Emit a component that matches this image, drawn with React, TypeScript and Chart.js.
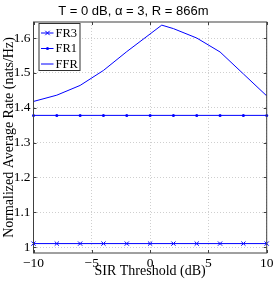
import React, { useEffect, useRef } from 'react';
import { Chart, registerables } from 'chart.js';

Chart.register(...registerables);

// ---- data ----
const sirThresholdDb = [-10, -8, -6, -4, -2, 0, 2, 4, 6, 8, 10];
const fr3Rate = [1.01, 1.01, 1.01, 1.01, 1.01, 1.01, 1.01, 1.01, 1.01, 1.01, 1.01];
const fr1Rate = [1.378, 1.378, 1.378, 1.378, 1.378, 1.378, 1.378, 1.378, 1.378, 1.378, 1.378];
const ffrSirDb = [-10, -8, -6, -4, -2, 1, 2, 4, 6, 8, 10];
const ffrRate = [1.418, 1.436, 1.464, 1.507, 1.561, 1.637, 1.627, 1.6, 1.56, 1.497, 1.434];
const xTicks = [-10, -5, 0, 5, 10];
const yTicks = [1.0, 1.1, 1.2, 1.3, 1.4, 1.5, 1.6];
const seriesNames = ['FR3', 'FR1', 'FFR'];
const titleText = 'T = 0 dB, \u03b1 = 3, R = 866m';
const xTitle = 'SIR Threshold (dB)';
const yTitle = 'Normalized Average Rate (nats/Hz)';

const BLUE = '#0000ff';
const SERIF = '"Liberation Serif", "Times New Roman", serif';

const toPts = (xs: number[], ys: number[]) => xs.map((x, i) => ({ x, y: ys[i] }));

const boxPlugin = {
  id: 'matlabBox',
  afterDraw(chart: any) {
    const { ctx, chartArea: a, scales } = chart;
    ctx.save();
    // inward ticks
    ctx.strokeStyle = '#404040';
    ctx.lineWidth = 1;
    const tl = 3;
    ctx.beginPath();
    xTicks.forEach((v) => {
      const px = Math.round(scales.x.getPixelForValue(v)) + 0.5;
      ctx.moveTo(px, a.bottom);
      ctx.lineTo(px, a.bottom - tl);
      ctx.moveTo(px, a.top);
      ctx.lineTo(px, a.top + tl);
    });
    yTicks.forEach((v) => {
      const py = Math.round(scales.y.getPixelForValue(v)) + 0.5;
      ctx.moveTo(a.left, py);
      ctx.lineTo(a.left + tl, py);
      ctx.moveTo(a.right, py);
      ctx.lineTo(a.right - tl, py);
    });
    ctx.stroke();
    // box
    ctx.strokeStyle = '#404040';
    ctx.strokeRect(a.left, a.top, a.right - a.left, a.bottom - a.top);

    // legend
    const lx = a.left + 5.5;
    const ly = a.top + 1.5;
    const lw = 41;
    const lh = 47;
    ctx.fillStyle = '#ffffff';
    ctx.fillRect(lx, ly, lw, lh);
    ctx.strokeStyle = '#303030';
    ctx.strokeRect(lx, ly, lw, lh);
    const rows = [ly + 9.5, ly + 25, ly + 40.5];
    rows.forEach((ry, i) => {
      ctx.strokeStyle = BLUE;
      ctx.fillStyle = BLUE;
      ctx.lineWidth = 1;
      ctx.beginPath();
      ctx.moveTo(lx + 2, ry);
      ctx.lineTo(lx + 14.5, ry);
      ctx.stroke();
      const mx = lx + 8.5;
      if (i === 0) {
        ctx.beginPath();
        ctx.moveTo(mx - 2.2, ry - 2.2);
        ctx.lineTo(mx + 2.2, ry + 2.2);
        ctx.moveTo(mx - 2.2, ry + 2.2);
        ctx.lineTo(mx + 2.2, ry - 2.2);
        ctx.stroke();
      } else if (i === 1) {
        ctx.beginPath();
        ctx.arc(mx, ry, 1.5, 0, Math.PI * 2);
        ctx.fill();
      }
      ctx.fillStyle = '#000';
      ctx.font = `12.5px ${SERIF}`;
      ctx.textAlign = 'left';
      ctx.textBaseline = 'middle';
      ctx.fillText(seriesNames[i], lx + 16.5, ry + 0.5);
    });
    ctx.restore();
  },
};

export default function App() {
  const ref = useRef<HTMLCanvasElement>(null);
  useEffect(() => {
    if (!ref.current) return;
    const chart = new Chart(ref.current, {
      type: 'line',
      data: {
        datasets: [
          {
            label: seriesNames[0],
            data: toPts(sirThresholdDb, fr3Rate),
            borderColor: BLUE,
            backgroundColor: BLUE,
            borderWidth: 1,
            pointStyle: 'crossRot',
            pointRadius: 3,
            pointBorderWidth: 1,
            pointBorderColor: BLUE,
            clip: false,
          },
          {
            label: seriesNames[1],
            data: toPts(sirThresholdDb, fr1Rate),
            borderColor: BLUE,
            backgroundColor: BLUE,
            borderWidth: 1,
            pointStyle: 'circle',
            pointRadius: 1.5,
            pointBorderWidth: 0,
            clip: false,
          },
          {
            label: seriesNames[2],
            data: toPts(ffrSirDb, ffrRate),
            borderColor: BLUE,
            backgroundColor: BLUE,
            borderWidth: 1,
            pointRadius: 0,
            clip: false,
          },
        ],
      },
      options: {
        responsive: false,
        animation: false,
        events: [],
        layout: { padding: { left: 0, right: 10.3, top: 0, bottom: 0 } },
        plugins: {
          legend: { display: false },
          tooltip: { enabled: false },
          title: {
            display: true,
            text: titleText,
            color: '#000',
            font: { family: '"Liberation Sans", Arial, sans-serif', size: 13, weight: 'normal', lineHeight: 1.2 },
            padding: { top: 3.2, bottom: 3.2 },
          },
        },
        scales: {
          x: {
            type: 'linear',
            min: -10,
            max: 10,
            afterBuildTicks: (s: any) => {
              s.ticks = xTicks.map((v) => ({ value: v }));
            },
            afterFit: (s: any) => {
              s.height = 28;
            },
            ticks: {
              color: '#000',
              font: { family: SERIF, size: 13.5 },
              padding: 2,
              maxRotation: 0,
              callback: (v: any) => (Number(v) < 0 ? '\u2212' + Math.abs(Number(v)) : String(v)),
            },
            grid: { color: '#cfcfcf', lineWidth: 1, drawTicks: false },
            border: { display: false, dash: [1, 2] },
            title: {
              display: true,
              text: xTitle,
              color: '#000',
              font: { family: SERIF, size: 14, lineHeight: 1.2 },
              padding: { top: 0, bottom: 1.6 },
            },
          },
          y: {
            type: 'linear',
            min: 0.983,
            max: 1.646,
            afterBuildTicks: (s: any) => {
              s.ticks = yTicks.map((v) => ({ value: v }));
            },
            afterFit: (s: any) => {
              s.width = 33.5;
            },
            ticks: {
              color: '#000',
              font: { family: SERIF, size: 13.5 },
              padding: 3,
              callback: (v: any) => String(Math.round(Number(v) * 10) / 10),
            },
            grid: { color: '#cfcfcf', lineWidth: 1, drawTicks: false },
            border: { display: false, dash: [1, 2] },
            title: {
              display: true,
              text: yTitle,
              color: '#000',
              font: { family: SERIF, size: 14, lineHeight: 1.2 },
              padding: { top: 1.1, bottom: 0 },
            },
          },
        },
      },
      plugins: [boxPlugin],
    } as any);
    return () => chart.destroy();
  }, []);
  return (
    <div style={{ position: 'fixed', left: 0, top: 0, width: 277, height: 281, background: '#fff' }}>
      <canvas ref={ref} width={277} height={281} style={{ display: 'block', width: 277, height: 281 }} />
    </div>
  );
}
